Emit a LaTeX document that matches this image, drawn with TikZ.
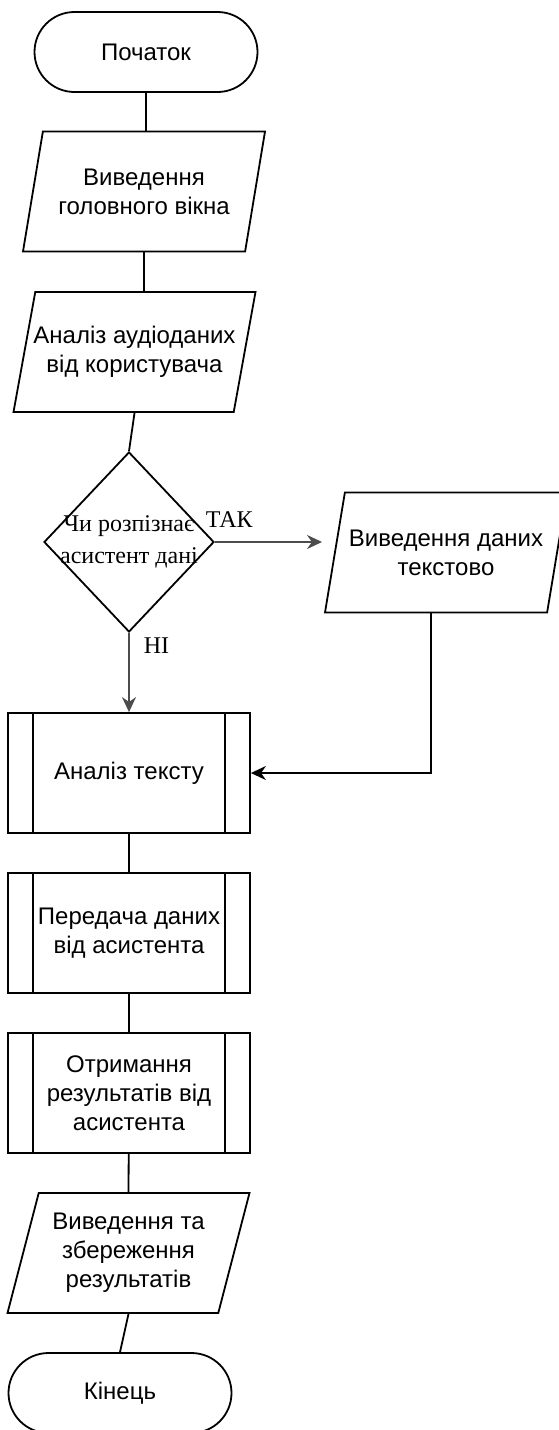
\documentclass[tikz,border=0pt]{standalone}
\usepackage{fontspec}
\setmainfont{Liberation Serif}
\setsansfont{Liberation Sans}
\usetikzlibrary{arrows.meta,shapes.geometric}
\tikzset{
	base/.style={draw, line width=0.9pt, font=\sffamily\fontsize{12}{14.5}\selectfont, align=center},
	terminal/.style={base, rectangle, rounded corners=20pt, minimum width=111.5pt, minimum height=40pt},
	inout/.style={base, trapezium, trapezium left angle=71.4, trapezium right angle=108.6, trapezium stretches body, minimum width=121pt, minimum height=60pt, inner xsep=-6pt},
	decision/.style={base, diamond, minimum width=85pt, minimum height=90pt, inner sep=0pt},
	subproc/.style={base, rectangle, minimum width=121pt, minimum height=60pt,
		path picture={\draw[line width=0.9pt] ([xshift=12.5pt]path picture bounding box.north west) -- ([xshift=12.5pt]path picture bounding box.south west)
			([xshift=-12.5pt]path picture bounding box.north east) -- ([xshift=-12.5pt]path picture bounding box.south east);}},
	dectext/.style={font=\rmfamily\fontsize{12}{16}\selectfont, align=center},
	answer/.style={font=\rmfamily\fontsize{12}{14}\selectfont, text=black, inner sep=2pt},
	line/.style={line width=0.9pt},
	arrow/.style={line, -{Stealth[length=7.5pt,width=7pt]}}
}

\begin{document}
\begin{tikzpicture}[x=0.5pt, y=-0.5pt]
		%%%%% START %%%%%
		\useasboundingbox (0, 0) rectangle (558, 1430);
		
		\node[terminal] (start) at (146, 52) {Початок};
		\node[inout] (mainwin) at (144, 191.5) {Виведення\\головного вікна};
		\node[inout] (audio) at (134.5, 352) {Аналіз аудіоданих\\від користувача};
		\node[decision, label={[dectext]center:{Чи розпізнає\\асистент дані}}] (recog) at (129, 542) {};
		\node[inout] (textout) at (446, 552.5) {Виведення даних\\текстово};
		
		\node[subproc] (parse) at (129, 773) {Аналіз тексту};
		\node[subproc] (send) at (129, 933) {Передача даних\\від асистента};
		\node[subproc] (receive) at (129, 1093) {Отримання\\результатів від\\асистента};
		\node[inout] (save) at (128.5, 1253) {Виведення та\\збереження\\результатів};
		\node[terminal] (finish) at (120, 1393) {Кінець};
		
		\draw[line] (start) -- (start |- mainwin.north);
		\draw[line] (mainwin.south) -- (mainwin.south |- audio.north);
		\draw[line] (audio.south) -- (recog.north);
		
		\draw[arrow, black!70, shorten >=6pt] (recog.east) -- node[pos=0, answer, above right, xshift=-7pt, yshift=5pt] {ТАК} (recog.east -| textout.west);
		\draw[arrow, black!70] (recog.south) -- node[pos=0, answer, below right, xshift=5pt] {НІ} (parse.north);
		\draw[arrow] ([xshift=-7.5pt]textout.south) |- (parse.east);
		
		\draw[line] (parse) -- (send);
		\draw[line] (send) -- (receive);
		\draw[line] (receive) -- (save.north);
		\draw[line] (save.south) -- (finish.north);
		
		%%%%% END %%%%%
	\end{tikzpicture}
\end{document}
